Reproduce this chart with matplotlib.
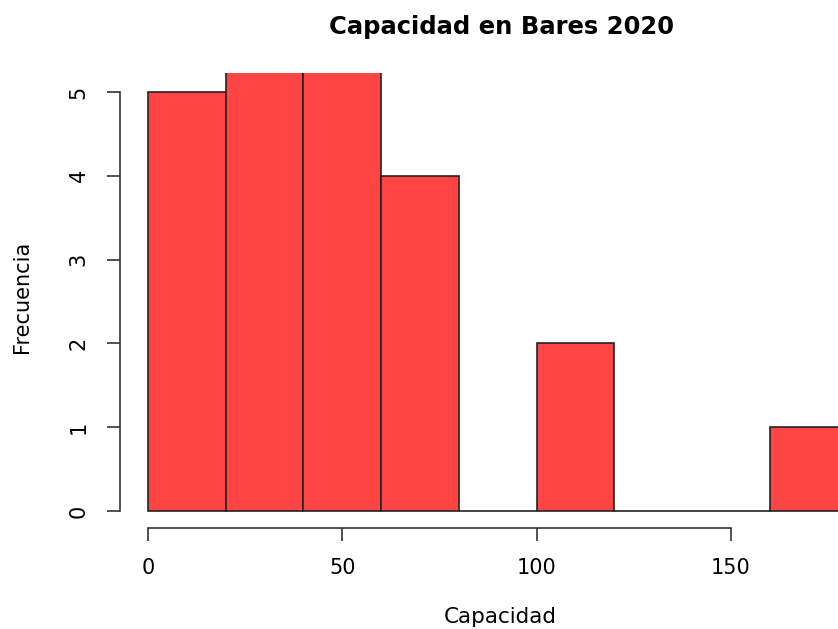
import matplotlib
matplotlib.use('Agg')
import matplotlib.pyplot as plt

# DejaVu es algo más ancha que Arial, se parece más al texto estirado del original
plt.rcParams['font.family'] = ['DejaVu Sans']

# histograma: bordes de clase y frecuencias (las dos barras altas salen recortadas)
bin_edges = [0, 20, 40, 60, 80, 100, 120, 140, 160, 180]
counts = [5, 6, 6, 4, 0, 2, 0, 0, 1]
x_ticks = [0, 50, 100, 150]
y_ticks = [0, 1, 2, 3, 4, 5]

W, H = 838, 629
fig = plt.figure(figsize=(W / 100, H / 100), dpi=100)

# ejes colocados en pixeles: y=0 en 511, y=5 en 92; x=0 en 148, x=150 en 731
ax = fig.add_axes([120 / W, (H - 528) / H, (W - 120) / W, (528 - 73) / H])
px_x = (731 - 148) / 150
px_y = (511 - 92) / 5
ax.set_xlim(-(148 - 120) / px_x, (W - 148) / px_x)
ax.set_ylim(-(528 - 511) / px_y, (511 - 73) / px_y)

widths = [b - a for a, b in zip(bin_edges[:-1], bin_edges[1:])]
ax.bar(bin_edges[:-1], counts, width=widths, align='edge',
       color='#ff4444', edgecolor='#222222', linewidth=1.2)

for s in ['top', 'right']:
    ax.spines[s].set_visible(False)
ax.spines['left'].set_bounds(0, 5)
ax.spines['bottom'].set_bounds(0, 150)
for s in ['left', 'bottom']:
    ax.spines[s].set_linewidth(1.2)
    ax.spines[s].set_color('#333333')

ax.set_xticks(x_ticks)
ax.set_yticks(y_ticks)
ax.tick_params(axis='both', length=9.5, width=1.2, color='#333333',
               labelsize=15)
ax.tick_params(axis='x', pad=12)
ax.tick_params(axis='y', pad=13)
plt.setp(ax.get_yticklabels(), rotation=90, va='center')

fig.text(501 / W, 1 - 27 / H, 'Capacidad en Bares 2020', ha='center',
         va='center', fontsize=17.5, fontweight='bold')
fig.text(500 / W, 1 - 617 / H, 'Capacidad', ha='center', va='center',
         fontsize=15.5)
fig.text(22 / W, 1 - 297 / H, 'Frecuencia', ha='center', va='center',
         fontsize=15, rotation=90)

fig.savefig('out.png', dpi=100)
